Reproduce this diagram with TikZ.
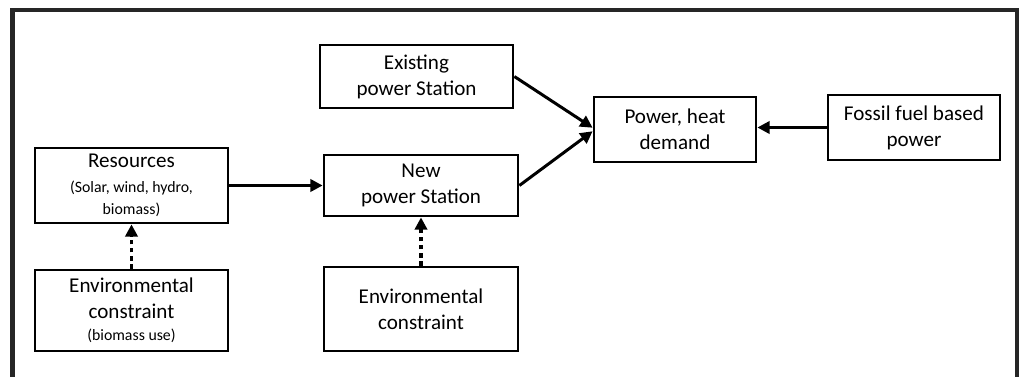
\documentclass[tikz,border=0pt]{standalone}
\usepackage{fontspec}
\setmainfont{Carlito}
\usetikzlibrary{arrows.meta,positioning}

\begin{document}
\begin{tikzpicture}[
    x=0.02cm, y=-0.02cm,
    box/.style={draw, line width=1.6pt, align=center, inner sep=2pt, font=\fontsize{12}{14.7}\selectfont},
    arr/.style={-{Triangle[length=7pt,width=7pt]}, line width=1.7pt},
    dotarr/.style={arr, line width=2pt, dash pattern=on 2.6pt off 2pt},
]
\useasboundingbox (0,0) rectangle (1019,376);
% outer frame, open at the bottom
\draw[line width=2.8pt, black!85] (12.5,400) |- (1017.5,10) -- (1017.5,400);

\node[box, minimum width=3.86cm, minimum height=1.26cm] (exist) at (416.5,76.5) {Existing\\power Station};
\node[box, minimum width=3.86cm, minimum height=1.5cm] (res) at (131.5,185.5) {Resources\\[-1pt]{\fontsize{9}{10}\selectfont (Solar, wind, hydro,}\\[-2pt]{\fontsize{9}{10}\selectfont biomass)}};
\node[box, minimum width=3.88cm, minimum height=1.22cm] (new) at (421,185.5) {New\\power Station};
\node[box, minimum width=3.86cm, minimum height=1.62cm] (env1) at (131.5,310.5) {Environmental\\constraint\\[-2pt]{\fontsize{9}{10}\selectfont (biomass use)}};
\node[box, minimum width=3.88cm, minimum height=1.68cm] (env2) at (421,309) {Environmental\\constraint};
\node[box, minimum width=3.24cm, minimum height=1.3cm] (demand) at (675,129.5) {Power, heat\\demand};
\node[box, minimum width=3.44cm, minimum height=1.3cm] (fossil) at (914,127.5) {Fossil fuel based\\power};

\draw[arr] (res) -- (new);
\draw[arr] (exist.east) -- ([yshift=1pt]demand.west);
\draw[arr] (new.east) -- ([yshift=-1pt]demand.west);
\draw[arr] (fossil.west) -- (fossil.west -| demand.east);
\draw[dotarr] (env1) -- (res);
\draw[dotarr] (env2) -- (new);
\end{tikzpicture}
\end{document}
